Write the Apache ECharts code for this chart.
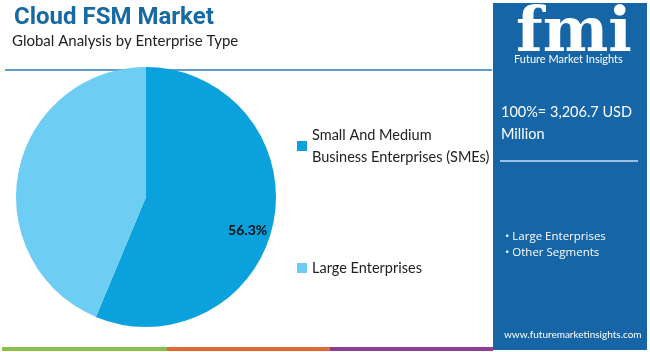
<!DOCTYPE html>
<html>
<head>
<meta charset="utf-8">
<script src="https://cdn.jsdelivr.net/npm/echarts@6/dist/echarts.min.js"></script>
<style>
  html, body { margin: 0; padding: 0; background: #fff; }
  #chart { width: 650px; height: 352px; }
</style>
</head>
<body>
<div id="chart"></div>
<script>
// data
let segments = ["Small And Medium\nBusiness Enterprises (SMEs)", "Large Enterprises"];
let shares = [56.3, 43.7];
let colors = ["#0aa1dc", "#6ecdf2"];
let totalText = "100%= 3,206.7 USD\nMillion";
let panelBullets = ["• Large Enterprises", "• Other Segments"];

var myChart = echarts.init(document.getElementById("chart"));
var font = "Lato, 'Open Sans', sans-serif";

var pieData = [];
for (let i = 0; i < segments.length; i++) {
  pieData.push({
    name: segments[i],
    value: shares[i],
    itemStyle: { color: colors[i] },
    label: { show: i == 0 }
  });
}

var option = {
  backgroundColor: "#fff",
  animation: false,
  title: [
    {
      text: "Cloud FSM Market",
      left: 9, top: 1,
      textStyle: { color: "#1669a3", fontSize: 24, fontWeight: "bold", fontFamily: "Roboto, sans-serif" }
    },
    {
      text: "Global Analysis by Enterprise Type",
      left: 7, top: 29,
      textStyle: { color: "#222", fontSize: 15, fontWeight: "normal", fontFamily: font }
    }
  ],
  legend: {
    orient: "vertical",
    left: 292, top: 119,
    itemWidth: 10, itemHeight: 10,
    itemGap: 89,
    icon: "rect",
    textStyle: { fontSize: 14.5, color: "#222", fontFamily: font, lineHeight: 22 },
    data: segments
  },
  series: [
    {
      type: "pie",
      center: [146, 197],
      radius: [0, 130],
      startAngle: 90,
      clockwise: true,
      label: {
        position: "inside",
        formatter: "{c}%",
        color: "#111",
        fontWeight: "bold",
        fontSize: 14,
        fontFamily: font,
        offset: [35, 20]
      },
      labelLine: { show: false },
      emphasis: { disabled: true },
      data: pieData
    }
  ],
  graphic: [
    { type: "line", shape: { x1: 5, y1: 70, x2: 492, y2: 70 }, style: { stroke: "#2a79b8", lineWidth: 1.5 } },
    { type: "rect", shape: { x: 493, y: 3, width: 154, height: 347 }, style: { fill: "#1665a6" } },
    { type: "text", left: 516, top: 4, style: { text: "fmi", fill: "#fff", font: "bold 62px 'DejaVu Serif', serif" } },
    { type: "text", left: 514, top: 54, style: { text: "Future Market Insights", fill: "#fff", font: "11px " + font } },
    { type: "text", left: 501, top: 101, style: { text: totalText, fill: "#fff", font: "14.5px " + font, lineHeight: 22 } },
    { type: "line", shape: { x1: 500, y1: 161, x2: 638, y2: 161 }, style: { stroke: "#cfe0ef", lineWidth: 1.5 } },
    { type: "text", left: 505, top: 229, style: { text: panelBullets.join("\n"), fill: "#fff", font: "11.5px 'Open Sans', sans-serif", lineHeight: 16 } },
    { type: "text", left: 504, top: 330, style: { text: "www.futuremarketinsights.com", fill: "#fff", font: "10px " + font } },
    { type: "rect", shape: { x: 2, y: 347, width: 165, height: 4 }, style: { fill: "#8bbf4c" } },
    { type: "rect", shape: { x: 167, y: 347, width: 163, height: 4 }, style: { fill: "#e06a35" } },
    { type: "rect", shape: { x: 330, y: 347, width: 163, height: 4 }, style: { fill: "#8c3f90" } }
  ]
};

option && myChart.setOption(option);
</script>
</body>
</html>
